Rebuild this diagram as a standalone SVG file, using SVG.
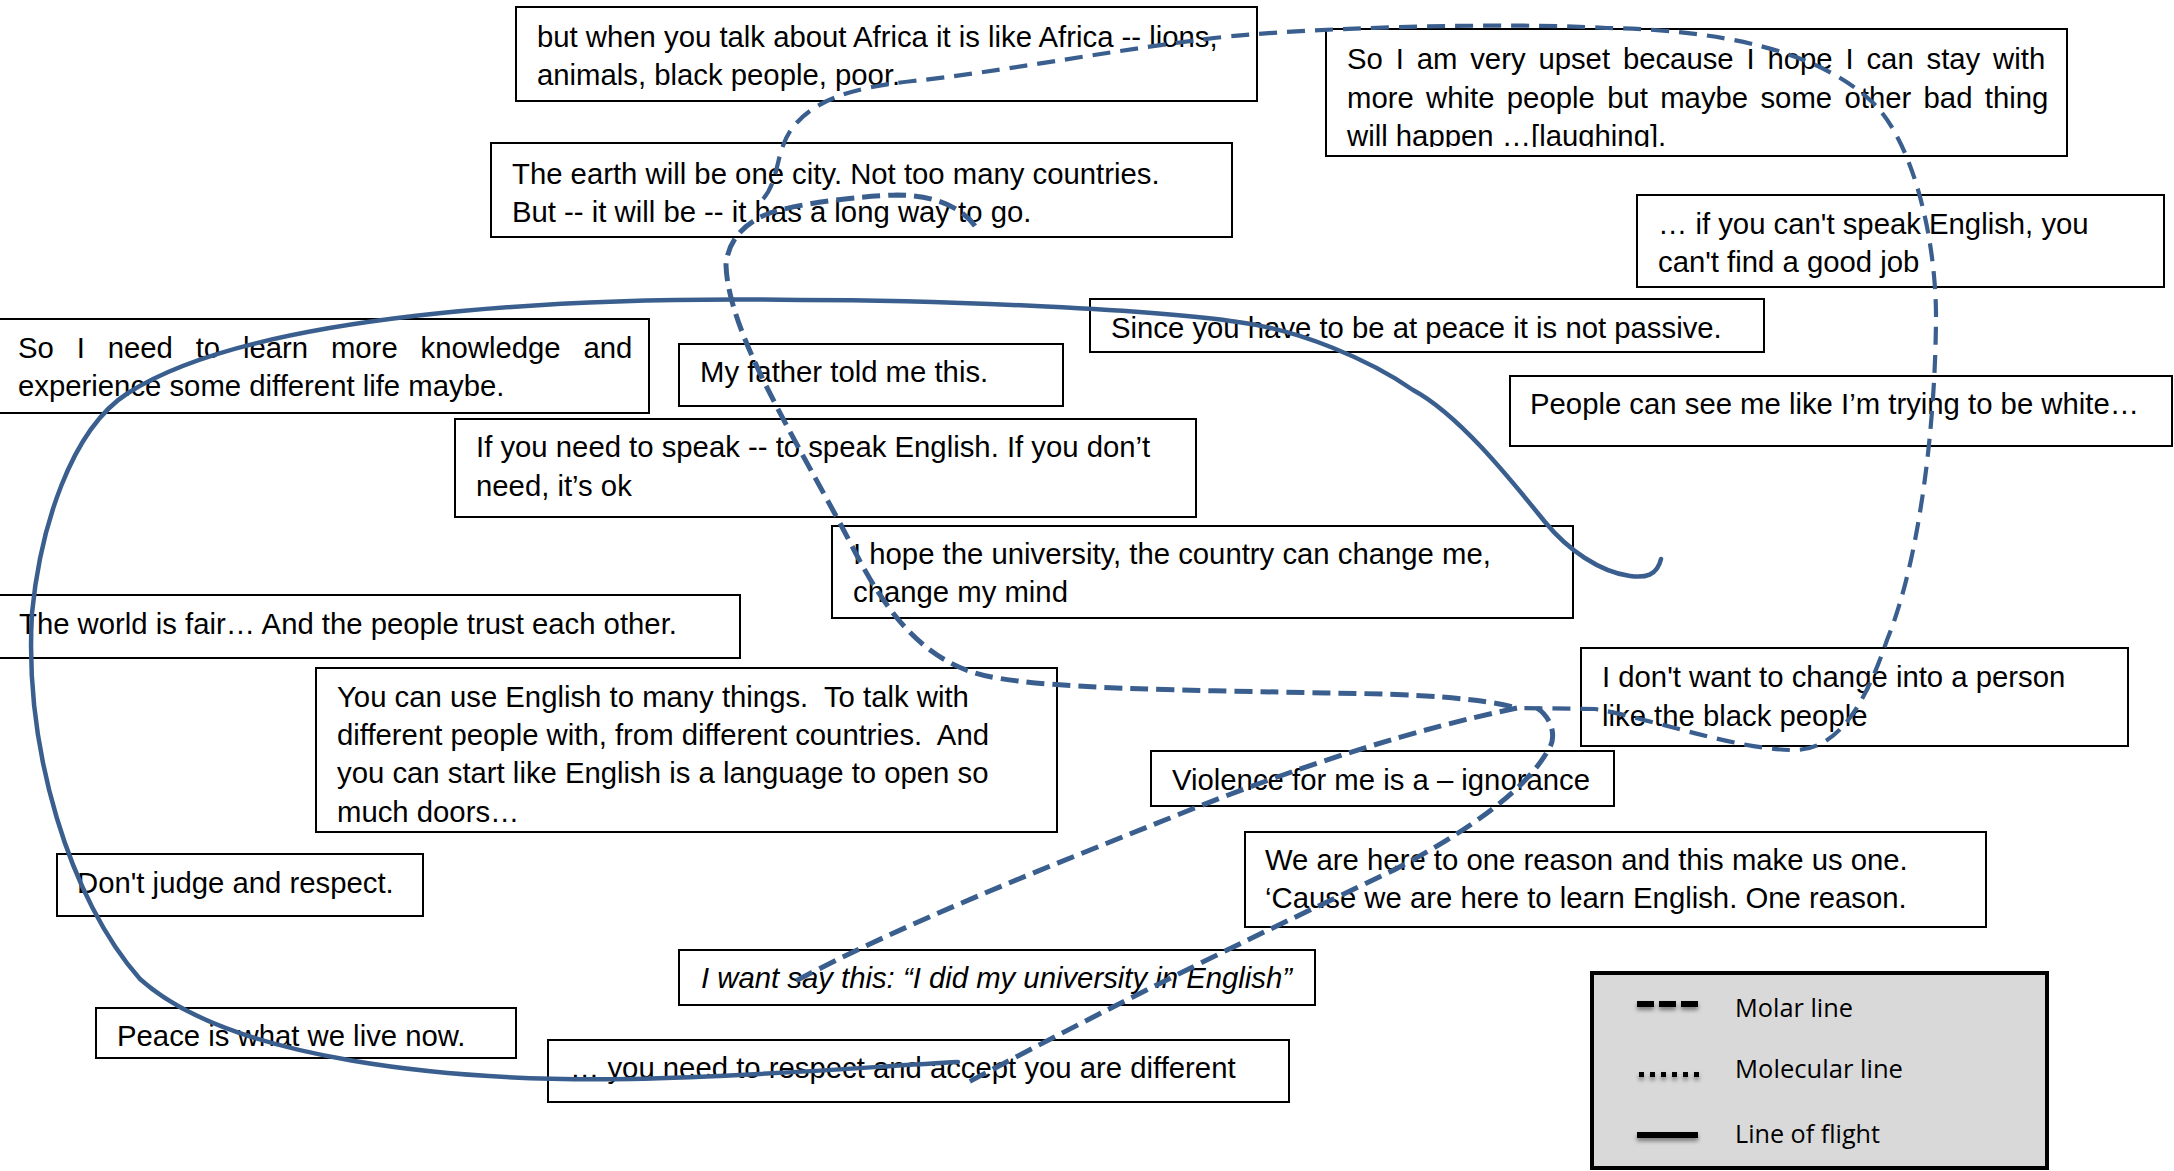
<svg xmlns="http://www.w3.org/2000/svg" width="2174" height="1171" viewBox="0 0 2174 1171">
<style>
.box{fill:#fff;stroke:#000;stroke-width:2}
.t{font-family:"Liberation Sans",Arial,sans-serif;font-size:29.3px;fill:#000;white-space:pre}
.it{font-style:italic}
.molar{fill:none;stroke:#3a5f8e;stroke-width:5;stroke-dasharray:18 8}
.thin{stroke-width:4.2;stroke-dasharray:18 10}
.flight{fill:none;stroke:#3a5f8e;stroke-width:4.5;stroke-linecap:round}
.lg{font-family:"Open Sans","Liberation Sans",sans-serif;font-size:25px;fill:#000}
.mk{fill:#000}
</style>
<defs>
<clipPath id="clipC"><rect x="1326" y="29" width="741" height="118"/></clipPath>
<filter id="sh" filterUnits="userSpaceOnUse" x="1600" y="985" width="130" height="175">
<feDropShadow dx="0" dy="3" stdDeviation="2" flood-color="#000" flood-opacity="0.45"/>
</filter>
</defs>
<g id="nodes">
<g id="n-africa"><rect class="box" x="516" y="7" width="741" height="94"/>
<text class="t" x="537" y="47">but when you talk about Africa it is like Africa -- lions,</text>
<text class="t" x="537" y="85">animals, black people, poor.</text></g>
<g id="n-earth"><rect class="box" x="491" y="143" width="741" height="94"/>
<text class="t" x="512" y="184">The earth will be one city. Not too many countries.</text>
<text class="t" x="512" y="222">But -- it will be -- it has a long way to go.</text></g>
<g id="n-upset"><rect class="box" x="1326" y="29" width="741" height="127"/>
<g clip-path="url(#clipC)">
<text class="t" x="1347" y="69" word-spacing="4.7">So I am very upset because I hope I can stay with</text>
<text class="t" x="1347" y="108" word-spacing="4.2">more white people but maybe some other bad thing</text>
<text class="t" x="1347" y="146">will happen …[laughing].</text></g></g>
<g id="n-job"><rect class="box" x="1637" y="195" width="527" height="92"/>
<text class="t" x="1658" y="234">… if you can't speak English, you</text>
<text class="t" x="1658" y="272">can't find a good job</text></g>
<g id="n-learn"><rect class="box" x="-2" y="319" width="651" height="94"/>
<text class="t" x="18" y="358" word-spacing="14.7">So I need to learn more knowledge and</text>
<text class="t" x="18" y="396">experience some different life maybe.</text></g>
<g id="n-father"><rect class="box" x="679" y="344" width="384" height="62"/>
<text class="t" x="700" y="382">My father told me this.</text></g>
<g id="n-peace-passive"><rect class="box" x="1090" y="299" width="674" height="53"/>
<text class="t" x="1111" y="338">Since you have to be at peace it is not passive.</text></g>
<g id="n-white"><rect class="box" x="1510" y="376" width="662" height="70"/>
<text class="t" x="1530" y="414">People can see me like I’m trying to be white…</text></g>
<g id="n-speak"><rect class="box" x="455" y="419" width="741" height="98"/>
<text class="t" x="476" y="457">If you need to speak -- to speak English. If you don’t</text>
<text class="t" x="476" y="496">need, it’s ok</text></g>
<g id="n-university"><rect class="box" x="832" y="526" width="741" height="92"/>
<text class="t" x="853" y="564">I hope the university, the country can change me,</text>
<text class="t" x="853" y="602">change my mind</text></g>
<g id="n-fair"><rect class="box" x="-2" y="595" width="742" height="63"/>
<text class="t" x="19" y="634">The world is fair… And the people trust each other.</text></g>
<g id="n-english"><rect class="box" x="316" y="668" width="741" height="164"/>
<text class="t" x="337" y="707">You can use English to many things.  To talk with</text>
<text class="t" x="337" y="745">different people with, from different countries.  And</text>
<text class="t" x="337" y="783">you can start like English is a language to open so</text>
<text class="t" x="337" y="822">much doors…</text></g>
<g id="n-judge"><rect class="box" x="57" y="854" width="366" height="62"/>
<text class="t" x="77" y="893">Don't judge and respect.</text></g>
<g id="n-peace-now"><rect class="box" x="96" y="1008" width="420" height="50"/>
<text class="t" x="117" y="1046">Peace is what we live now.</text></g>
<g id="n-want"><rect class="box" x="679" y="950" width="636" height="55"/>
<text class="t it" x="701" y="988">I want say this: “I did my university in English”</text></g>
<g id="n-respect"><rect class="box" x="548" y="1040" width="741" height="62"/>
<text class="t" x="570" y="1078">… you need to respect and accept you are different</text></g>
<g id="n-black"><rect class="box" x="1581" y="648" width="547" height="98"/>
<text class="t" x="1602" y="687">I don't want to change into a person</text>
<text class="t" x="1602" y="726">like the black people</text></g>
<g id="n-violence"><rect class="box" x="1151" y="751" width="463" height="55"/>
<text class="t" x="1172" y="790">Violence for me is a – ignorance</text></g>
<g id="n-reason"><rect class="box" x="1245" y="832" width="741" height="95"/>
<text class="t" x="1265" y="870">We are here to one reason and this make us one.</text>
<text class="t" x="1265" y="908">‘Cause we are here to learn English. One reason.</text></g>
</g>
<g id="connectors">
<path class="flight" d="M1661,559 C1657,576 1645,578 1630,576 C1600,572 1568,550 1545,522 C1515,485 1460,415 1413,390 C1370,360 1300,330 1238,322 C1160,310 950,300 800,300 C550,296 250,315 128,393 C70,430 40,530 32,613 C24,750 70,900 140,979 C230,1060 450,1082 631,1079 C750,1077 880,1066 958,1062"/>
<path class="molar" d="M975,226 C960,205 930,195 897,195 C860,196 800,203 770,213 C745,222 728,240 726,265 C728,330 790,430 842,527 C866,572 900,650 975,673 C1030,690 1200,690 1326,693 C1420,694 1480,698 1517,708"/>
<path class="molar thin" d="M763,199 C780,180 775,150 793,127 C815,100 850,88 913,81 C1000,72 1100,52 1214,38 C1300,28 1500,22 1607,28 C1720,30 1815,50 1870,100 C1910,135 1935,230 1936,313 C1936,420 1920,560 1887,640 C1860,720 1830,752 1790,750 C1730,748 1650,718 1595,709 L1517,708"/>
<path class="molar" d="M1517,708 C1420,728 1300,765 1170,818 C1040,870 900,925 790,984"/>
<path class="molar" d="M1537,708 C1552,718 1558,738 1547,752 C1525,790 1470,830 1394,870 C1300,915 1170,975 963,1085"/>
</g>
<g id="legend">
<rect x="1592" y="973" width="455" height="195" fill="#d9d9d9" stroke="#000" stroke-width="4"/>
<g filter="url(#sh)">
<rect class="mk" x="1637" y="1001" width="17" height="6"/>
<rect class="mk" x="1659" y="1001" width="17" height="6"/>
<rect class="mk" x="1681" y="1001" width="17" height="6"/>
<rect class="mk" x="1639" y="1072" width="5" height="5"/>
<rect class="mk" x="1650" y="1072" width="5" height="5"/>
<rect class="mk" x="1661" y="1072" width="5" height="5"/>
<rect class="mk" x="1672" y="1072" width="5" height="5"/>
<rect class="mk" x="1683" y="1072" width="5" height="5"/>
<rect class="mk" x="1694" y="1072" width="5" height="5"/>
<rect class="mk" x="1637" y="1132" width="61" height="6"/>
</g>
<text class="lg" x="1735" y="1017" textLength="118" lengthAdjust="spacingAndGlyphs">Molar line</text>
<text class="lg" x="1735" y="1078" textLength="168" lengthAdjust="spacingAndGlyphs">Molecular line</text>
<text class="lg" x="1735" y="1143" textLength="145" lengthAdjust="spacingAndGlyphs">Line of flight</text>
</g>
</svg>
